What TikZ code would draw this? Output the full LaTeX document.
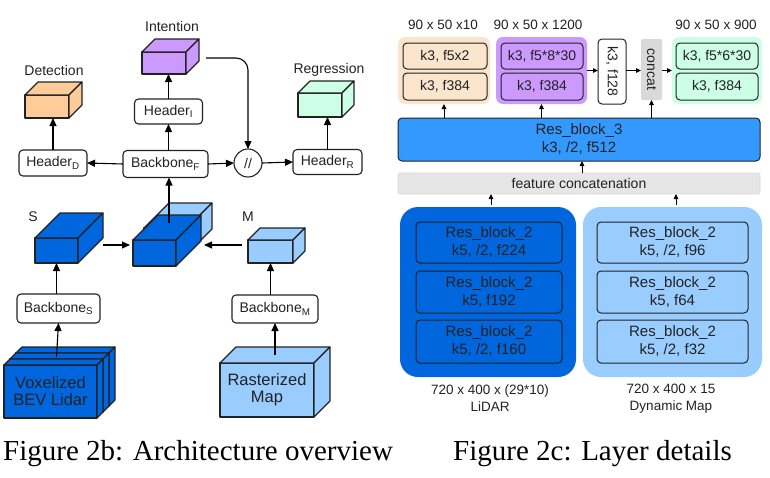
\documentclass[tikz,border=0pt]{standalone}
\usepackage{fontspec}
\setmainfont{Liberation Serif}
\newfontfamily\arialf{Liberation Sans}
\usetikzlibrary{arrows.meta,calc}
\definecolor{detc}{HTML}{FFCC99}
\definecolor{intc}{HTML}{CC99FF}
\definecolor{regc}{HTML}{CCFFE6}
\definecolor{dblue}{HTML}{0066DD}
\definecolor{lblue}{HTML}{99CCFF}
\definecolor{resc}{HTML}{3399FF}
\definecolor{orbg}{HTML}{FCE5CD}
\definecolor{featc}{HTML}{E6E6E6}
\definecolor{concc}{HTML}{D9D9D9}
\definecolor{ink}{HTML}{222222}
\newcommand\cubesides[3]{%
  \filldraw[face, fill=#3] (#1.north west) -- ([shift={(#2,-#2)}]#1.north west) -- ([shift={(#2,-#2)}]#1.north east) -- (#1.north east) -- cycle;
  \filldraw[face, fill=#3] (#1.north east) -- ([shift={(#2,-#2)}]#1.north east) -- ([shift={(#2,-#2)}]#1.south east) -- (#1.south east) -- cycle;}
\begin{document}
\begin{tikzpicture}[x=1pt,y=-1pt,
  face/.style={draw=ink, line width=1.1pt, line join=round, inner sep=0pt, outer sep=0pt},
  box/.style={draw=ink, line width=1.1pt, rounded corners=4pt, fill=white, inner sep=0pt, outer sep=0pt, text=ink, font=\arialf\fontsize{14}{16}\selectfont},
  lbl/.style={inner sep=0pt, text=ink, font=\arialf\fontsize{14}{16}\selectfont},
  rlbl/.style={inner sep=0pt, text=ink, align=center, font=\arialf\fontsize{13.5}{17}\selectfont},
  big/.style={text=ink, align=center, font=\arialf\fontsize{16.5}{17}\selectfont},
  arr/.style={draw=black, line width=1.1pt, -{Triangle[length=8pt,width=7pt]}},
  sarr/.style={draw=black, line width=0.9pt, -{Triangle[length=5pt,width=4.5pt]}},
  panel/.style={rounded corners=7pt, inner sep=0pt, outer sep=0pt},
  ibox/.style={draw=ink, line width=1pt, rounded corners=4pt, inner sep=0pt, outer sep=0pt, text=ink, align=center, font=\arialf\fontsize{14}{17}\selectfont},
  rbox/.style={draw=ink, line width=1pt, rounded corners=4pt, inner sep=0pt, outer sep=0pt, text=ink, align=center, font=\arialf\fontsize{15}{18}\selectfont},
  capt/.style={inner sep=0pt, anchor=base west, font=\fontsize{29}{32}\selectfont}
]
\useasboundingbox (0,0) rectangle (770,477);

% ---------- left: architecture overview ----------
\node[lbl] (tint) at (172,26) {Intention};
\node[lbl] (tdet) at (54,70) {Detection};
\node[lbl] (treg) at (329,70) {Regression};

\node[face, fill=intc, minimum width=44pt, minimum height=22pt] (intc) at (164,63) {};
\cubesides{intc}{13}{intc}
\node[face, fill=detc, minimum width=44pt, minimum height=23pt] (detc) at (47,106.5) {};
\cubesides{detc}{13}{detc}
\node[face, fill=regc, minimum width=44pt, minimum height=24pt] (regc) at (320,105) {};
\cubesides{regc}{12}{regc}

\node[box, minimum width=68pt, minimum height=25pt] (hI) at (168.5,111.5) {Header\textsubscript{I}};
\node[box, minimum width=68pt, minimum height=26pt] (hD) at (53,163) {Header\textsubscript{D}};
\node[box, minimum width=85pt, minimum height=27pt] (bbF) at (165.5,164) {Backbone\textsubscript{F}};
\node[draw=ink, circle, line width=1.1pt, minimum size=28pt, inner sep=0pt, outer sep=0pt, text=ink, font=\arialf\fontsize{14}{16}\selectfont] (cc) at (248,163) {//};
\node[box, minimum width=69pt, minimum height=25pt] (hR) at (327.5,162) {Header\textsubscript{R}};

\draw[arr] (bbF.west) -- (hD.east);
\draw[arr] (bbF.east) -- (cc.west);
\draw[arr] (cc.east) -- (hR.west);
\draw[arr] (bbF.north -| hI.south) -- (hI.south);
\draw[arr] (hI.north) -- (hI.north |- intc.south);
\draw[arr] (hD.north) -- (hD.north |- detc.south);
\draw[arr] (hR.north) -- (hR.north |- regc.south);
\draw[arr, rounded corners=12pt] ([xshift=20pt,yshift=5pt]intc.east) -| (cc.north);

% fused cube
\node[face, fill=lblue, minimum width=43pt, minimum height=26pt] (fusL) at (165.5,241) {};
\cubesides{fusL}{25}{lblue}
\node[face, fill=dblue, minimum width=43pt, minimum height=26pt] (fus) at (154.5,253) {};
\cubesides{fus}{25}{dblue}
\coordinate (fustop) at ([xshift=14.5pt,yshift=17pt]fus.north);
\draw[arr] (fustop) -- (fustop |- bbF.south);

% S and M cubes
\node[lbl] (tS) at (33,217) {S};
\node[lbl] (tM) at (248,217) {M};
\node[face, fill=dblue, minimum width=43pt, minimum height=25pt] (Sc) at (56.5,250.5) {};
\cubesides{Sc}{25}{dblue}
\node[face, fill=lblue, minimum width=45pt, minimum height=23pt] (Mc) at (270.5,251.5) {};
\cubesides{Mc}{12}{lblue}
\draw[arr] ([xshift=25pt,yshift=5.5pt]Sc.east) -- ([xshift=-3pt,yshift=8pt]fus.west);
\draw[arr] ([xshift=-6pt,yshift=6.5pt]Mc.west) -- ([xshift=28pt,yshift=8pt]fus.east);

\node[box, minimum width=83pt, minimum height=29pt] (bbS) at (58.5,308.5) {Backbone\textsubscript{S}};
\node[box, minimum width=86pt, minimum height=28pt] (bbM) at (275,309) {Backbone\textsubscript{M}};
\draw[arr] (bbS.north -| Sc.south) -- (Sc.south);
\draw[arr] (bbM.north -| Mc.south) -- (Mc.south);

% voxelized lidar (stacked slices)
\node[face, fill=dblue, minimum width=93pt, minimum height=53pt] (vox3) at (62.5,379.5) {};
\cubesides{vox3}{6}{dblue}
\node[face, fill=dblue, minimum width=93pt, minimum height=53pt] (vox2) at (56.5,385.5) {};
\cubesides{vox2}{6}{dblue}
\node[face, fill=dblue, minimum width=93pt, minimum height=53pt, big] (vox) at (50.5,391.5) {Voxelized\\BEV Lidar};
\cubesides{vox}{6}{dblue}
\node[face, fill=lblue, minimum width=94pt, minimum height=54pt, big] (ras) at (267,390) {Rasterized\\Map};
\cubesides{ras}{16}{lblue}
\draw[arr] ([yshift=-4pt]vox3.north -| Sc.south) -- (bbS.south);
\draw[arr] ([yshift=8pt]ras.north -| bbM.south) -- (bbM.south);

% ---------- right: layer details ----------
\node[rlbl] (d1) at (443,25) {90 x 50 x10};
\node[rlbl] (d2) at (538,25) {90 x 50 x 1200};
\node[rlbl] (d3) at (716,25) {90 x 50 x 900};

\node[panel, fill=orbg, minimum width=92pt, minimum height=67pt] (ob) at (444,70.5) {};
\node[ibox, fill=orbg, minimum width=84pt, minimum height=26pt] (o1) at (445,56) {k3, f5x2};
\node[ibox, fill=orbg, minimum width=84pt, minimum height=27pt] (o2) at (445,86.5) {k3, f384};

\node[panel, fill=intc, minimum width=91pt, minimum height=67pt] (pb) at (541.5,70.5) {};
\node[ibox, fill=intc, minimum width=82pt, minimum height=26pt] (p1) at (542,56) {k3, f5*8*30};
\node[ibox, fill=intc, minimum width=82pt, minimum height=27pt] (p2) at (542,86.5) {k3, f384};

\node[ibox, fill=white, minimum width=28pt, minimum height=65pt] (f128) at (612,71.5) {\rotatebox{-90}{k3, f128}};
\node[inner sep=0pt, outer sep=0pt, fill=concc, rounded corners=2pt, minimum width=21pt, minimum height=61pt, text=ink, font=\arialf\fontsize{14}{17}\selectfont] (conc) at (651.5,69.5) {\rotatebox{-90}{concat}};

\node[panel, fill=regc, minimum width=90pt, minimum height=67pt] (gb) at (717,70.5) {};
\node[ibox, fill=regc, minimum width=82pt, minimum height=26pt] (g1) at (717,56) {k3, f5*6*30};
\node[ibox, fill=regc, minimum width=82pt, minimum height=27pt] (g2) at (717,86.5) {k3, f384};

\draw[sarr] (pb.east) -- (f128.west |- pb.east);
\draw[sarr] (f128.east |- pb.east) -- (conc.west |- pb.east);
\draw[sarr] (conc.east |- pb.east) -- (gb.west);

\node[rbox, fill=resc, minimum width=362pt, minimum height=43pt] (res) at (579,139.5) {Res\_block\_3\\k3, /2, f512};
\node[inner sep=0pt, outer sep=0pt, fill=featc, draw=black!15, line width=0.6pt, rounded corners=2pt, minimum width=362pt, minimum height=21pt, text=ink, font=\arialf\fontsize{14}{17}\selectfont] (feat) at (579,183.5) {feature concatenation};

\draw[sarr] (ob.south |- res.north) -- (ob.south);
\draw[sarr] (pb.south |- res.north) -- (pb.south);
\draw[sarr] (conc.south |- res.north) -- (conc.south);
\draw[sarr] ([xshift=3pt]feat.north) -- ([xshift=3pt]res.south);

\node[inner sep=0pt, outer sep=0pt, fill=dblue, rounded corners=18pt, minimum width=176pt, minimum height=170pt] (lid) at (488,292) {};
\node[rbox, fill=dblue, minimum width=146pt, minimum height=41pt] (l1) at (489,242.5) {Res\_block\_2\\k5, /2, f224};
\node[rbox, fill=dblue, minimum width=146pt, minimum height=42pt] (l2) at (489,292) {Res\_block\_2\\k5, f192};
\node[rbox, fill=dblue, minimum width=146pt, minimum height=43pt] (l3) at (489,341.5) {Res\_block\_2\\k5, /2, f160};

\node[inner sep=0pt, outer sep=0pt, fill=lblue, rounded corners=18pt, minimum width=179pt, minimum height=170pt] (map) at (672.5,292) {};
\node[rbox, fill=lblue, minimum width=151pt, minimum height=41pt] (m1) at (672.5,242.5) {Res\_block\_2\\k5, /2, f96};
\node[rbox, fill=lblue, minimum width=151pt, minimum height=42pt] (m2) at (672.5,292) {Res\_block\_2\\k5, f64};
\node[rbox, fill=lblue, minimum width=151pt, minimum height=43pt] (m3) at (672.5,341.5) {Res\_block\_2\\k5, /2, f32};

\draw[sarr] ([xshift=3pt,yshift=2pt]lid.north) -- ([xshift=3pt]lid.north |- feat.south);
\draw[sarr] ([xshift=3.5pt,yshift=2pt]map.north) -- ([xshift=3.5pt]map.north |- feat.south);

\node[rlbl] (lidt) at (490,398.5) {720 x 400 x (29*10)\\LiDAR};
\node[rlbl] (mapt) at (671,398.5) {720 x 400 x 15\\Dynamic Map};

% captions
\node[capt] (cap1) at (3,460) {Figure 2b: Architecture overview};
\node[capt] (cap2) at (453,460) {Figure 2c: Layer details};
\end{tikzpicture}
\end{document}
